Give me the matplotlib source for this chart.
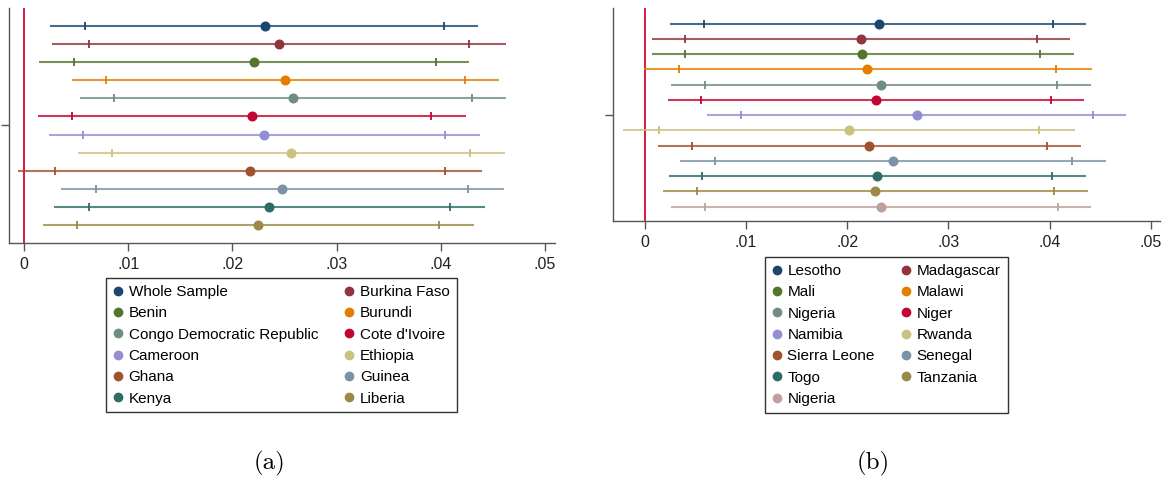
import matplotlib
matplotlib.use("Agg")
import matplotlib.pyplot as plt
from matplotlib.lines import Line2D

# ---------------- data ----------------
names_a = ["Whole Sample", "Burkina Faso", "Benin", "Burundi",
           "Congo Democratic Republic", "Cote d'Ivoire", "Cameroon",
           "Ethiopia", "Ghana", "Guinea", "Kenya", "Liberia"]
est_a = [0.0231, 0.02445, 0.0221, 0.02506, 0.0258, 0.0219, 0.02304,
         0.02564, 0.0217, 0.0248, 0.02356, 0.0225]
lo95_a = [0.0025, 0.00268, 0.00144, 0.00463, 0.00534, 0.00134, 0.00237,
          0.00518, -0.00054, 0.00352, 0.00285, 0.00179]
lo90_a = [0.00585, 0.0062, 0.00477, 0.00786, 0.0086, 0.00463, 0.00563,
          0.00844, 0.00301, 0.0069, 0.0062, 0.00512]
hi90_a = [0.0403, 0.0427, 0.0395, 0.0423, 0.0430, 0.0391, 0.0404,
          0.04283, 0.0404, 0.04264, 0.0409, 0.03986]
hi95_a = [0.0436, 0.04625, 0.0427, 0.04555, 0.0463, 0.04245, 0.0438,
          0.0462, 0.0440, 0.04602, 0.0442, 0.04315]

names_b = ["Lesotho", "Madagascar", "Mali", "Malawi", "Nigeria", "Niger",
           "Namibia", "Rwanda", "Sierra Leone", "Senegal", "Togo",
           "Tanzania", "Nigeria"]
est_b = [0.0231, 0.02136, 0.0215, 0.0220, 0.02337, 0.02284, 0.02689,
         0.02014, 0.02221, 0.02452, 0.02294, 0.02277, 0.02337]
lo95_b = [0.00254, 0.00069, 0.00069, -0.0001, 0.00264, 0.00227, 0.00619,
          -0.00217, 0.00132, 0.00352, 0.00237, 0.00181, 0.00264]
lo90_b = [0.00586, 0.00402, 0.00402, 0.0034, 0.00596, 0.00557, 0.00951,
          0.00138, 0.00468, 0.00691, 0.0057, 0.00517, 0.00596]
hi90_b = [0.0403, 0.03873, 0.03906, 0.0406, 0.04077, 0.04012, 0.04426,
          0.03893, 0.03972, 0.04219, 0.04028, 0.04041, 0.04081]
hi95_b = [0.04363, 0.04205, 0.0424, 0.04417, 0.04413, 0.04344, 0.04758,
          0.04249, 0.04308, 0.04558, 0.0436, 0.04377, 0.04407]

x_ticks = [0, 0.01, 0.02, 0.03, 0.04, 0.05]
x_ticklabels = ["0", ".01", ".02", ".03", ".04", ".05"]

stata = ["#1a476f", "#90353b", "#55752f", "#e37e00", "#6e8e84", "#c10534",
         "#938dd2", "#cac27e", "#a0522d", "#7b92a8", "#2d6d66", "#9c8847",
         "#bfa19c"]

plt.rcParams["font.family"] = ["Liberation Sans", "DejaVu Sans"]

W, H = 1168, 483
fig = plt.figure(figsize=(W / 100, H / 100), dpi=100)


def px_axes(x0, y0, x1, y1):
    return fig.add_axes([x0 / W, 1 - y1 / H, (x1 - x0) / W, (y1 - y0) / H])


def panel(ax, names, est, lo95, lo90, hi90, hi95, xlim, ylim, ytick,
          legend_cx, legend_top, caption, cap_x):
    n = len(names)
    handles = []
    for i in range(n):
        y = i + 1
        c = stata[i]
        ax.plot([lo95[i], hi95[i]], [y, y], color=c, lw=1.5, alpha=0.8,
                solid_capstyle="butt", zorder=2)
        ax.plot([lo90[i], hi90[i]], [y, y], color=c, lw=0, marker="|",
                markersize=6, markeredgewidth=1.3, zorder=3)
        ax.plot([est[i]], [y], color=c, marker="o", markersize=6.2,
                lw=0, zorder=4)
        handles.append(Line2D([], [], color=c, marker="o", lw=0,
                              markersize=6))
    ax.axvline(0, color="#d7193f", lw=1.4, zorder=1)
    ax.set_xlim(*xlim)
    ax.set_ylim(*ylim)
    ax.set_xticks(x_ticks)
    ax.set_xticklabels(x_ticklabels)
    ax.set_yticks([ytick])
    ax.set_yticklabels([""])
    for s in ["top", "right"]:
        ax.spines[s].set_visible(False)
    for s in ["left", "bottom"]:
        ax.spines[s].set_color("#555555")
        ax.spines[s].set_linewidth(1.0)
    ax.tick_params(axis="both", length=6, width=1.0, color="#555555",
                   labelsize=11.5, pad=4, labelcolor="#222222")
    ax.set_facecolor("white")

    # reorder so that a 2-column legend reads row-wise
    order = list(range(0, n, 2)) + list(range(1, n, 2))
    leg = ax.legend([handles[k] for k in order], [names[k] for k in order],
                    ncol=2, loc="upper center",
                    bbox_to_anchor=(legend_cx / W, 1 - legend_top / H),
                    bbox_transform=fig.transFigure,
                    fontsize=11, frameon=True, fancybox=False,
                    edgecolor="#333333", framealpha=1,
                    handlelength=0.6, handletextpad=0.4,
                    columnspacing=1.75, labelspacing=0.48, borderpad=0.45,
                    borderaxespad=0)
    leg.get_frame().set_linewidth(1.0)
    fig.text(cap_x / W, 1 - 463 / H, caption, fontfamily="cmr10",
             fontsize=18, ha="center", va="center")


ax_a = px_axes(9, 8, 555, 243)
panel(ax_a, names_a, est_a, lo95_a, lo90_a, hi90_a, hi95_a,
      xlim=(-0.00144, 0.05096), ylim=(13.0, 0.0), ytick=6.5,
      legend_cx=281.5, legend_top=278, caption="(a)", cap_x=269)

ax_b = px_axes(613, 8, 1160, 221)
panel(ax_b, names_b, est_b, lo95_b, lo90_b, hi90_b, hi95_b,
      xlim=(-0.00312, 0.0509), ylim=(13.94, -0.03), ytick=7,
      legend_cx=886.5, legend_top=257, caption="(b)", cap_x=873)

fig.savefig("out.png", dpi=100, facecolor="white")
